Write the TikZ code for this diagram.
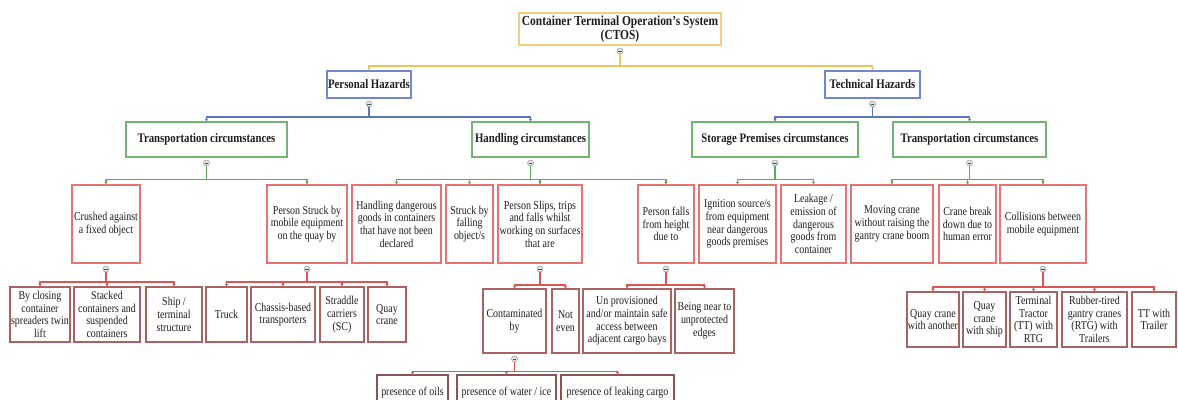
\documentclass[tikz,border=0pt]{standalone}
\usepackage{fontspec}
\setmainfont{Liberation Serif}[FakeStretch=0.83]
\usetikzlibrary{arrows.meta}
\definecolor{orB}{RGB}{242,205,130}
\definecolor{orL}{RGB}{236,196,95}
\definecolor{blB}{RGB}{115,135,205}
\definecolor{blL}{RGB}{90,118,190}
\definecolor{grB}{RGB}{115,180,115}
\definecolor{grL}{RGB}{95,170,95}
\definecolor{rdB}{RGB}{228,115,115}
\definecolor{rdL}{RGB}{222,85,85}
\definecolor{rd4}{RGB}{170,98,98}
\definecolor{rd5}{RGB}{140,85,85}
\definecolor{txt}{RGB}{30,30,30}
\newcommand\hzbox[7]{%
  \pgfmathsetmacro\myW{#5-#3}\pgfmathsetmacro\myH{#6-#4}%
  \pgfmathsetmacro\myX{(#3+#5)/2}\pgfmathsetmacro\myY{(#4+#6)/2}%
  \node[#2,minimum width=\myW pt,minimum height=\myH pt] (#1) at (\myX,\myY) {#7};}
\newcommand\hztog[1]{\node[tog,anchor=north] (#1T) at ([yshift=-2pt]#1.south) {};}
\begin{document}
\begin{tikzpicture}[x=1pt,y=-1pt,
  base/.style={rectangle,inner sep=0pt,align=center,text=txt,line width=1.4pt,fill=white},
  rootbox/.style={base,draw=orB,font=\bfseries\fontsize{13.8}{14.5}\selectfont},
  l1box/.style={base,draw=blB,font=\bfseries\fontsize{13}{14.5}\selectfont},
  l2box/.style={base,draw=grB,font=\bfseries\fontsize{13}{14.5}\selectfont},
  l3box/.style={base,draw=rdB,font=\fontsize{12}{12.7}\selectfont},
  l4box/.style={base,draw=rd4,font=\fontsize{12}{12.7}\selectfont},
  l5box/.style={base,draw=rd5,font=\fontsize{12}{12.7}\selectfont},
  tog/.style={circle,draw=gray!75,fill=gray!20,line width=0.6pt,inner sep=0pt,minimum size=6pt,
    path picture={\draw[gray!60!black,line width=0.6pt]
      ([xshift=-1.6pt]path picture bounding box.center) -- ([xshift=1.6pt]path picture bounding box.center);}},
  conn/.style={line width=1.3pt},
  tip/.style={conn,-{Triangle[length=2.5pt,width=3.2pt]}},
  oc/.style={color=orL}, bc/.style={color=blL}, gc/.style={color=grL}, rc/.style={color=rdL}
]
\useasboundingbox (0,0) rectangle (1178,399);
\clip (0,0) rectangle (1178,399);

% ---------- boxes ----------
\hzbox{root}{rootbox}{519}{13}{721}{45}{Container Terminal Operation\char39 s System\\(CTOS)}
\hzbox{ph}{l1box}{327}{71}{411}{98}{Personal Hazards}
\hzbox{th}{l1box}{825}{71}{920}{98}{Technical Hazards}

\hzbox{tcA}{l2box}{126}{122}{287}{157}{Transportation circumstances}
\hzbox{hc}{l2box}{472}{122}{589}{157}{Handling circumstances}
\hzbox{sp}{l2box}{692}{122}{858}{157}{Storage Premises circumstances}
\hzbox{tcB}{l2box}{893}{122}{1046}{157}{Transportation circumstances}

\hzbox{crushed}{l3box}{72}{185}{140}{263}{Crushed against\\a fixed object}
\hzbox{struck}{l3box}{267}{185}{347}{263}{Person Struck by\\mobile equipment\\on the quay by}
\hzbox{hdg}{l3box}{352}{185}{441}{263}{Handling dangerous\\goods in containers\\that have not been\\declared}
\hzbox{sbf}{l3box}{446}{185}{493}{263}{Struck by\\falling\\object/s}
\hzbox{slips}{l3box}{498}{185}{582}{263}{Person Slips, trips\\and falls whilst\\working on surfaces\\that are}
\hzbox{falls}{l3box}{638}{185}{694}{263}{Person falls\\from height\\due to}
\hzbox{ign}{l3box}{699}{185}{776}{263}{Ignition source/s\\from equipment\\near dangerous\\goods premises}
\hzbox{leak}{l3box}{781}{185}{846}{263}{Leakage /\\emission of\\dangerous\\goods from\\container}
\hzbox{mov}{l3box}{851}{185}{933}{263}{Moving crane\\without raising the\\gantry crane boom}
\hzbox{brk}{l3box}{939}{185}{996}{263}{Crane break\\down due to\\human error}
\hzbox{col}{l3box}{1000}{185}{1086}{263}{Collisions between\\mobile equipment}

\hzbox{bc}{l4box}{10}{287}{70}{342}{By closing\\container\\spreaders twin\\lift}
\hzbox{stk}{l4box}{74}{287}{140}{342}{Stacked\\containers and\\suspended\\containers}
\hzbox{shp}{l4box}{146}{287}{202}{342}{Ship /\\terminal\\structure}
\hzbox{trk}{l4box}{206}{287}{247}{342}{Truck}
\hzbox{chs}{l4box}{251}{287}{315}{342}{Chassis-based\\transporters}
\hzbox{str}{l4box}{320}{287}{364}{342}{Straddle\\carriers\\(SC)}
\hzbox{qc}{l4box}{368}{287}{406}{342}{Quay\\crane}

\hzbox{ctm}{l4box}{483}{289}{546}{353}{Contaminated\\by}
\hzbox{ne}{l4box}{552}{289}{579}{353}{Not\\even}
\hzbox{unp}{l4box}{583}{289}{671}{353}{Un provisioned\\and/or maintain safe\\access between\\adjacent cargo bays}
\hzbox{bn}{l4box}{675}{289}{734}{353}{Being near to\\unprotected\\edges}

\hzbox{qa}{l4box}{907}{292}{959}{347}{Quay crane\\with another}
\hzbox{qs}{l4box}{963}{292}{1006}{347}{Quay\\crane\\with ship}
\hzbox{ttr}{l4box}{1010}{292}{1057}{347}{Terminal\\Tractor\\(TT) with\\RTG}
\hzbox{rtg}{l4box}{1062}{292}{1127}{347}{Rubber-tired\\gantry cranes\\(RTG) with\\Trailers}
\hzbox{ttt}{l4box}{1132}{292}{1176}{347}{TT with\\Trailer}

\hzbox{oil}{l5box}{377}{375}{448}{410}{presence of oils}
\hzbox{wat}{l5box}{457}{375}{556}{410}{presence of water / ice}
\hzbox{lkc}{l5box}{561}{375}{674}{410}{presence of leaking cargo}

% ---------- toggles ----------
\foreach \n in {root,ph,th,tcA,hc,sp,tcB,crushed,struck,slips,falls,col,ctm}{\hztog{\n}}

% ---------- connectors ----------
\draw[conn,oc] (rootT.south) -- (rootT.south |- 0,66) coordinate (rootB);
\draw[tip,oc] (rootB) -| (ph.north);
\draw[tip,oc] (rootB) -| (th.north);

\draw[conn,bc] (phT.south) -- (phT.south |- 0,117) coordinate (phB);
\draw[tip,bc] (phB) -| (tcA.north);
\draw[tip,bc] (phB) -| (hc.north);
\draw[conn,bc] (thT.south) -- (thT.south |- 0,117) coordinate (thB);
\draw[tip,bc] (thB) -| (sp.north);
\draw[tip,bc] (thB) -| (tcB.north);

\draw[conn,gc] (tcAT.south) -- (tcAT.south |- 0,179.5) coordinate (tcAB);
\draw[tip,gc] (tcAB) -| (crushed.north);
\draw[tip,gc] (tcAB) -| (struck.north);
\draw[conn,gc] (hcT.south) -- (hcT.south |- 0,179.5) coordinate (hcB);
\foreach \c in {hdg,sbf,slips,falls}{\draw[tip,gc] (hcB) -| (\c.north);}
\draw[conn,gc] (spT.south) -- (spT.south |- 0,179.5) coordinate (spB);
\foreach \c in {ign,leak}{\draw[tip,gc] (spB) -| (\c.north);}
\draw[conn,gc] (tcBT.south) -- (tcBT.south |- 0,179.5) coordinate (tcBB);
\foreach \c in {mov,brk,col}{\draw[tip,gc] (tcBB) -| (\c.north);}

\draw[conn,rc] (crushedT.south) -- (crushedT.south |- 0,282) coordinate (crB);
\foreach \c in {bc,stk,shp}{\draw[tip,rc] (crB) -| (\c.north);}
\draw[conn,rc] (struckT.south) -- (struckT.south |- 0,282) coordinate (stB);
\foreach \c in {trk,chs,str,qc}{\draw[tip,rc] (stB) -| (\c.north);}
\draw[conn,rc] (slipsT.south) -- (slipsT.south |- 0,285) coordinate (slB);
\foreach \c in {ctm,ne}{\draw[tip,rc] (slB) -| (\c.north);}
\draw[conn,rc] (fallsT.south) -- (fallsT.south |- 0,285) coordinate (faB);
\foreach \c in {unp,bn}{\draw[tip,rc] (faB) -| (\c.north);}
\draw[conn,rc] (colT.south) -- (colT.south |- 0,287) coordinate (coB);
\foreach \c in {qa,qs,ttr,rtg,ttt}{\draw[tip,rc] (coB) -| (\c.north);}
\draw[conn,rc] (ctmT.south) -- (ctmT.south |- 0,371.5) coordinate (ctB);
\foreach \c in {oil,wat,lkc}{\draw[tip,rc] (ctB) -| (\c.north);}
\end{tikzpicture}
\end{document}
